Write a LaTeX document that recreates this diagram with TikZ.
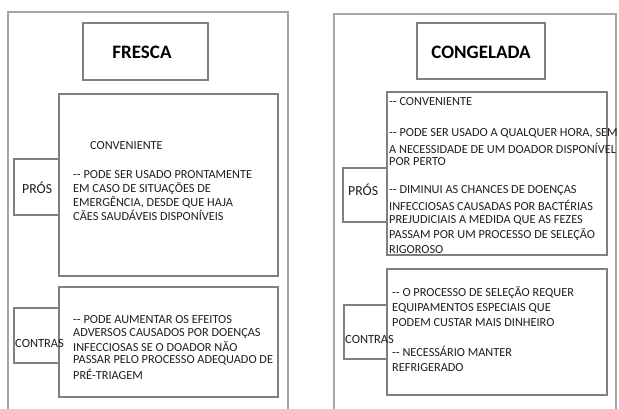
\documentclass[tikz,border=0pt]{standalone}
\usepackage{fontspec}
\setmainfont{Carlito}
\begin{document}
\begin{tikzpicture}[x=1pt,y=-1pt,
  outer/.style={draw=black!35,line width=1.2pt},
  box/.style={draw=black!50,line width=1.4pt,fill=white},
  txt/.style={anchor=west,inner sep=0pt,text=black!88,font=\fontsize{12.3}{14}\selectfont},
  ttl/.style={inner sep=0pt,text=black,font=\fontsize{19}{21}\selectfont\bfseries},
  lbl/.style={anchor=west,inner sep=0pt,text=black!88,font=\fontsize{13.8}{15}\selectfont}]
\useasboundingbox (0,0) rectangle (619,409);
\fill[white] (0,0) rectangle (619,409);
% outer panels
\draw[outer] (8,412) -- (8,12) -- (288,12) -- (288,412);
\draw[outer] (334,412) -- (334,14) -- (616,14) -- (616,412);
% LEFT PANEL
\node[box,minimum width=125pt,minimum height=57pt] (fr) at (145.5,51.5) {};
\node[ttl] (frt) at (142,52) {FRESCA};
\draw[box] (14,159) rectangle (59,215);
\node[box,minimum width=219pt,minimum height=182pt] (lp) at (168.5,185) {};
\node[lbl] (lpl) at (22,188) {PRÓS};
\draw[box] (14,308) rectangle (59,363);
\node[box,minimum width=219pt,minimum height=110pt] (lc) at (168.5,342) {};
\node[lbl,font=\fontsize{12.5}{14}\selectfont] (lcl) at (15,343) {CONTRAS};
\node[txt] (l1) at (90,146) {CONVENIENTE};
\node[txt] (l2) at (73,175) {-{}- PODE SER USADO PRONTAMENTE};
\node[txt] (l3) at (73,188.5) {EM CASO DE SITUAÇÕES DE};
\node[txt] (l4) at (73,202) {EMERGÊNCIA, DESDE QUE HAJA};
\node[txt] (l5) at (73,215.5) {CÃES SAUDÁVEIS DISPONÍVEIS};
\node[txt] (c1) at (73,320) {-{}- PODE AUMENTAR OS EFEITOS};
\node[txt] (c2) at (73,333.5) {ADVERSOS CAUSADOS POR DOENÇAS};
\node[txt] (c3) at (73,347) {INFECCIOSAS SE O DOADOR NÃO};
\node[txt] (c4) at (73,360.5) {PASSAR PELO PROCESSO ADEQUADO DE};
\node[txt] (c5) at (73,374) {PRÉ-TRIAGEM};
% RIGHT PANEL
\node[box,minimum width=128pt,minimum height=56pt] (cg) at (481,51) {};
\node[ttl] (cgt) at (481,52) {CONGELADA};
\draw[box] (343,168) rectangle (387,222);
\node[box,minimum width=220pt,minimum height=163pt] (rp) at (497,173.5) {};
\node[lbl] (rpl) at (348,190) {PRÓS};
\draw[box] (344,305) rectangle (389,359);
\node[box,minimum width=220pt,minimum height=126pt] (rc) at (497,332) {};
\node[lbl,font=\fontsize{12.5}{14}\selectfont] (rcl) at (345,339) {CONTRAS};
\node[txt] (r1) at (389,102) {-{}- CONVENIENTE};
\node[txt] (r2) at (389,133) {-{}- PODE SER USADO A QUALQUER HORA, SEM};
\node[txt] (r3) at (389,148) {A NECESSIDADE DE UM DOADOR DISPONÍVEL};
\node[txt] (r4) at (389,162) {POR PERTO};
\node[txt] (r5) at (389,190.5) {-{}- DIMINUI AS CHANCES DE DOENÇAS};
\node[txt] (r6) at (389,205.5) {INFECCIOSAS CAUSADAS POR BACTÉRIAS};
\node[txt] (r7) at (389,220.5) {PREJUDICIAIS A MEDIDA QUE AS FEZES};
\node[txt] (r8) at (389,235) {PASSAM POR UM PROCESSO DE SELEÇÃO};
\node[txt] (r9) at (389,250) {RIGOROSO};
\node[txt] (s1) at (392,293) {-{}- O PROCESSO DE SELEÇÃO REQUER};
\node[txt] (s2) at (392,308.5) {EQUIPAMENTOS ESPECIAIS QUE};
\node[txt] (s3) at (392,323) {PODEM CUSTAR MAIS DINHEIRO};
\node[txt] (s4) at (392,351) {-{}- NECESSÁRIO MANTER};
\node[txt] (s5) at (392,367.5) {REFRIGERADO};
\end{tikzpicture}
\end{document}
